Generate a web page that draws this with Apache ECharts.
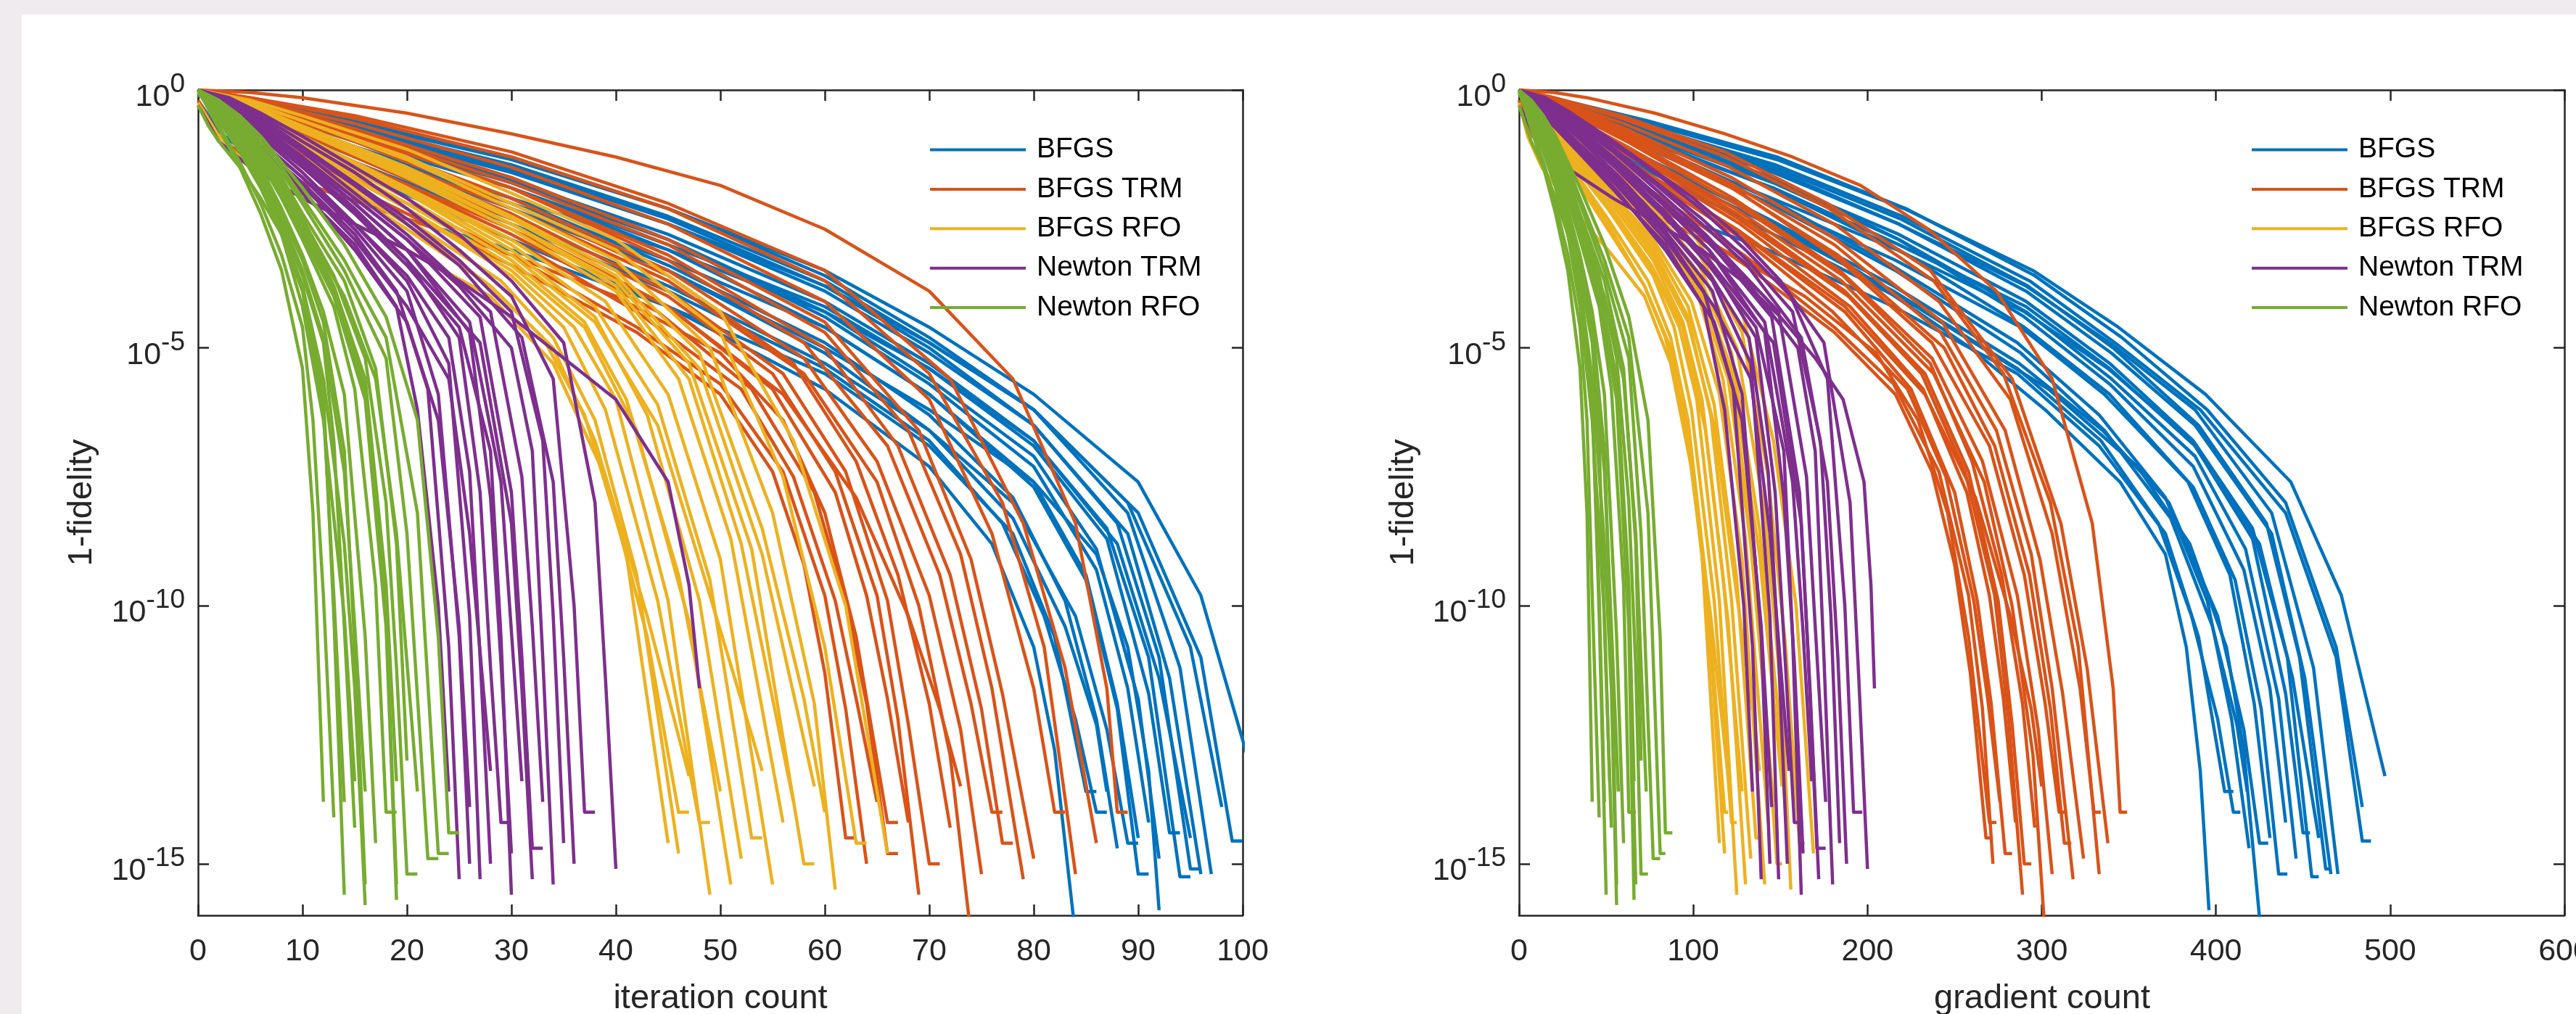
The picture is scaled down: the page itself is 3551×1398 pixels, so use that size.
<!DOCTYPE html>
<html>
<head>
<meta charset="utf-8">
<script src="https://cdn.jsdelivr.net/npm/echarts@6/dist/echarts.min.js"></script>
<style>
html,body{margin:0;padding:0;background:#efebef;overflow:hidden;}
#panel{position:absolute;left:30px;top:20px;width:3521px;height:1378px;background:#ffffff;}
#c{position:absolute;left:0;top:0;width:3551px;height:1398px;}
</style>
</head>
<body>
<div id="panel"></div>
<div id="c"></div>
<script>
// ---------------- data ----------------
const methodNames = ['BFGS', 'BFGS TRM', 'BFGS RFO', 'Newton TRM', 'Newton RFO'];
const methodColors = ['#0072BD', '#D95319', '#EDB120', '#7E2F8E', '#77AC30'];
const yTickExponents = [-15, -10, -5, 0];   // tick labels 10^-15 ... 10^0

// each run: [iteration, gradient count, log10(1-fidelity)]
const bfgsRuns = [
  [[0,0,0],[5,25,-0.6],[15,76,-1.6],[30,152,-2.9],[45,228,-4.2],[60,304,-5.8],[70,355,-7.3],[76,385,-8.8],[80,406,-10.8],[82,416,-12.8],[84,426,-16.4]],
  [[0,0,0],[5,21,-0.4],[15,65,-1.2],[30,130,-2.3],[45,194,-3.5],[60,259,-5.0],[70,302,-6.2],[80,345,-7.6],[86,371,-9.0],[89,383,-10.8],[91,391,-13.2],[92,396,-15.9]],
  [[0,0,-0.05],[5,24,-0.5],[15,72,-1.4],[30,143,-2.6],[45,215,-3.9],[60,286,-5.4],[70,334,-6.8],[77,367,-8.4],[81,386,-10.2],[84,401,-12.2],[86,410,-14.0],[87,414,-14.0]],
  [[0,0,0],[5,24,-0.35],[15,72,-1.1],[30,144,-2.2],[45,216,-3.5],[60,288,-5.1],[70,336,-6.6],[78,374,-8.3],[83,398,-10.4],[86,412,-12.3],[87,418,-13.6]],
  [[0,0,0],[5,24,-0.3],[15,71,-1.0],[30,143,-2.1],[45,214,-3.4],[60,286,-4.9],[70,333,-6.3],[78,371,-7.9],[83,395,-9.9],[86,409,-12.2],[88,419,-14.7]],
  [[0,0,0],[5,24,-0.45],[15,72,-1.3],[30,143,-2.5],[45,215,-3.8],[60,287,-5.3],[70,335,-6.6],[78,373,-8.0],[84,401,-10.2],[87,416,-12.4],[89,425,-14.6],[90,430,-14.6]],
  [[0,0,-0.1],[5,24,-0.4],[15,72,-1.1],[30,144,-2.2],[45,216,-3.3],[60,288,-4.6],[70,336,-5.9],[80,384,-7.6],[85,408,-9.4],[88,422,-11.9],[90,431,-14.5]],
  [[0,0,0],[5,24,-0.3],[15,73,-0.95],[30,145,-1.9],[45,218,-3.1],[60,290,-4.6],[70,339,-5.9],[80,387,-7.7],[85,411,-9.5],[88,426,-12.0],[90,436,-15.2],[91,441,-15.2]],
  [[0,0,0],[5,24,-0.25],[15,73,-0.8],[30,145,-1.7],[45,218,-2.9],[60,290,-4.4],[70,339,-5.7],[80,387,-7.3],[86,416,-9.3],[89,431,-11.6],[91,440,-14.2]],
  [[0,0,0],[5,24,-0.3],[15,73,-0.9],[30,146,-1.8],[45,218,-2.9],[60,291,-4.3],[70,340,-5.6],[80,388,-7.1],[86,417,-8.9],[90,436,-11.8],[92,446,-14.9]],
  [[0,0,0],[5,24,-0.35],[15,73,-1.0],[30,146,-1.9],[45,218,-3.0],[60,291,-4.2],[70,339,-5.4],[80,388,-6.9],[87,421,-8.7],[91,440,-11.7],[93,450,-14.4],[94,454,-14.4]],
  [[0,0,-0.05],[5,24,-0.3],[15,72,-0.85],[30,145,-1.75],[45,218,-2.8],[60,291,-4.1],[70,339,-5.3],[80,387,-6.8],[87,421,-8.5],[91,441,-11.0],[94,455,-15.25],[95,459,-15.25]],
  [[0,0,0],[5,24,-0.4],[15,72,-1.1],[30,145,-2.1],[45,217,-3.1],[60,290,-4.3],[70,338,-5.4],[80,386,-6.8],[88,425,-8.8],[92,444,-11.4],[95,459,-14.5]],
  [[0,0,0],[5,24,-0.2],[15,73,-0.7],[30,146,-1.5],[45,219,-2.5],[60,292,-3.8],[70,341,-5.0],[80,390,-6.5],[88,429,-8.4],[92,448,-11.0],[95,463,-15.1],[96,466,-15.1]],
  [[0,0,0],[5,24,-0.25],[15,73,-0.75],[30,146,-1.55],[45,218,-2.6],[60,291,-3.9],[70,340,-5.1],[80,388,-6.5],[89,432,-8.6],[93,451,-11.4],[96,466,-15.2]],
  [[0,0,0],[5,24,-0.3],[15,73,-0.8],[30,146,-1.6],[45,218,-2.6],[60,291,-3.8],[70,339,-4.9],[80,388,-6.2],[89,432,-8.2],[94,456,-11.2],[97,470,-15.2]],
  [[0,0,-0.05],[5,25,-0.2],[15,74,-0.6],[30,148,-1.3],[45,222,-2.3],[60,296,-3.6],[70,346,-4.8],[80,395,-6.2],[89,440,-8.0],[95,469,-10.8],[98,484,-13.9]],
  [[0,0,0],[5,24,-0.25],[15,73,-0.7],[30,147,-1.45],[45,220,-2.45],[60,293,-3.7],[70,342,-4.9],[80,391,-6.2],[90,440,-8.2],[96,469,-11.0],[99,484,-14.56],[100,489,-14.56]],
  [[0,0,0],[5,25,-0.2],[15,74,-0.65],[30,148,-1.35],[45,221,-2.3],[60,295,-3.5],[70,344,-4.6],[80,394,-5.9],[90,443,-7.6],[96,472,-9.8],[101,497,-13.3]],
  [[0,0,-0.2],[2,9,-0.8],[5,23,-1.3],[10,47,-1.8],[20,95,-2.5],[30,143,-3.1],[45,215,-4.2],[60,286,-5.5],[70,333,-6.9],[78,371,-8.6],[82,390,-10.6],[85,405,-13.6],[86,410,-13.6]]
];

const bfgsTrmRuns = [
  [[0,0,0],[5,22,-0.6],[15,65,-1.9],[30,130,-3.4],[42,181,-4.7],[50,216,-5.9],[55,237,-7.4],[58,250,-9.2],[60,259,-11.3],[62,268,-14.5],[63,272,-14.5]],
  [[0,0,0],[5,22,-0.55],[15,65,-1.7],[30,129,-3.2],[42,181,-4.6],[50,215,-5.7],[56,241,-7.4],[60,258,-9.8],[62,266,-12.0],[64,272,-15.0]],
  [[0,0,-0.05],[5,22,-0.5],[15,65,-1.5],[30,129,-2.9],[42,180,-4.3],[52,223,-5.8],[57,245,-7.5],[61,261,-9.9],[63,269,-11.8],[65,276,-13.8]],
  [[0,0,-0.1],[5,22,-0.45],[15,64,-1.4],[30,128,-2.8],[44,187,-4.3],[53,225,-5.8],[59,250,-7.8],[62,263,-9.9],[64,271,-11.9],[66,279,-14.8],[67,283,-14.8]],
  [[0,0,0],[5,21,-0.4],[15,64,-1.3],[30,127,-2.6],[45,190,-4.2],[55,232,-5.8],[61,257,-7.8],[64,270,-9.8],[66,278,-11.8],[68,285,-14.2]],
  [[0,0,0],[5,21,-0.35],[15,63,-1.2],[30,126,-2.5],[45,189,-4.0],[55,231,-5.5],[61,256,-7.4],[65,273,-9.8],[67,281,-12.2],[69,289,-15.6]],
  [[0,0,0],[5,21,-0.4],[15,63,-1.15],[30,125,-2.4],[45,187,-3.9],[56,233,-5.5],[62,258,-7.4],[66,275,-9.9],[68,283,-12.3],[70,290,-15.0],[71,294,-15.0]],
  [[0,0,-0.05],[5,21,-0.3],[15,62,-1.0],[30,124,-2.2],[45,186,-3.6],[57,236,-5.3],[63,260,-7.2],[67,277,-9.4],[70,289,-11.9],[72,296,-14.3]],
  [[0,0,0],[5,21,-0.35],[15,62,-1.1],[30,124,-2.3],[45,185,-3.7],[58,238,-5.5],[65,267,-7.6],[69,283,-10.0],[72,295,-12.9],[74,302,-16.4]],
  [[0,0,0],[5,21,-0.3],[15,62,-0.95],[30,123,-2.1],[45,184,-3.5],[58,237,-5.2],[65,266,-7.2],[70,286,-9.8],[73,298,-12.4],[75,306,-15.2]],
  [[0,0,0],[5,20,-0.25],[15,61,-0.85],[30,123,-1.9],[45,184,-3.3],[58,237,-4.9],[66,270,-6.9],[71,290,-9.4],[74,302,-11.9],[76,310,-14.0],[77,314,-14.0]],
  [[0,0,0],[5,20,-0.3],[15,61,-0.9],[30,122,-1.9],[45,183,-3.2],[60,244,-5.0],[67,273,-6.9],[72,293,-9.4],[75,305,-12.0],[77,313,-14.6],[78,317,-14.6]],
  [[0,0,0],[5,20,-0.25],[15,61,-0.8],[30,121,-1.8],[45,181,-3.0],[60,242,-4.7],[68,274,-6.6],[73,294,-9.0],[76,306,-11.6],[79,318,-15.3]],
  [[0,0,0],[5,20,-0.2],[15,61,-0.75],[30,122,-1.7],[45,182,-2.9],[60,243,-4.5],[69,279,-6.6],[74,299,-9.1],[77,312,-11.7],[80,324,-14.9]],
  [[0,0,0],[5,20,-0.2],[15,60,-0.65],[30,121,-1.5],[45,181,-2.6],[60,241,-4.1],[70,282,-6.0],[76,306,-8.6],[80,322,-11.6],[82,330,-14.0],[83,334,-14.0]],
  [[0,0,0],[5,20,-0.15],[15,59,-0.55],[30,119,-1.3],[45,178,-2.3],[60,238,-3.7],[70,278,-5.5],[77,305,-8.0],[81,321,-10.8],[84,333,-15.2]],
  [[0,0,0],[5,20,-0.15],[15,59,-0.5],[30,118,-1.2],[45,177,-2.2],[60,236,-3.5],[72,283,-5.6],[79,311,-8.4],[83,326,-11.2],[86,338,-14.6]],
  [[0,0,0],[5,20,-0.05],[10,39,-0.15],[20,78,-0.45],[30,118,-0.85],[40,157,-1.3],[50,196,-1.85],[60,235,-2.7],[70,274,-3.9],[78,306,-5.6],[84,329,-8.4],[87,341,-11.6],[88,345,-14.0],[89,349,-14.0]],
  [[0,0,-0.2],[2,8,-0.9],[5,20,-1.4],[10,41,-1.8],[20,82,-2.5],[30,123,-3.2],[40,164,-4.0],[50,205,-5.1],[56,229,-6.4],[60,246,-8.2],[63,258,-10.6],[66,270,-14.2],[67,274,-14.2]],
  [[0,0,0],[5,21,-0.5],[15,63,-1.4],[30,125,-2.7],[45,187,-4.2],[56,233,-5.9],[63,262,-7.9],[68,282,-10.2],[71,294,-12.0],[73,300,-13.5]]
];

const bfgsRfoRuns = [
  [[0,0,0],[5,13,-0.7],[10,26,-1.4],[20,51,-2.7],[28,72,-3.8],[33,84,-4.8],[37,95,-6.3],[41,105,-9.0],[45,115,-14.6]],
  [[0,0,0],[5,13,-0.6],[10,26,-1.3],[20,51,-2.5],[29,74,-3.7],[34,87,-4.8],[38,97,-6.4],[42,107,-9.4],[46,118,-14.8]],
  [[0,0,0],[5,13,-0.55],[10,25,-1.2],[20,51,-2.3],[30,77,-3.6],[35,89,-4.6],[39,99,-6.2],[44,112,-9.9],[48,122,-14.2],[49,125,-14.2]],
  [[0,0,-0.05],[5,13,-0.5],[10,26,-1.15],[20,51,-2.3],[30,77,-3.5],[36,92,-4.6],[40,102,-6.0],[45,115,-9.9],[49,125,-15.6]],
  [[0,0,0],[5,13,-0.45],[10,26,-1.05],[20,51,-2.1],[30,77,-3.3],[37,94,-4.5],[41,105,-6.0],[46,117,-9.4],[50,128,-13.6]],
  [[0,0,-0.05],[5,13,-0.5],[10,25,-1.1],[20,51,-2.2],[30,76,-3.4],[37,94,-4.6],[42,107,-6.6],[47,120,-10.3],[51,130,-15.4]],
  [[0,0,0],[5,13,-0.4],[10,26,-0.95],[20,51,-1.95],[30,77,-3.1],[38,97,-4.4],[43,110,-6.3],[48,122,-9.9],[52,133,-14.9]],
  [[0,0,0],[5,13,-0.35],[10,25,-0.9],[20,51,-1.9],[30,77,-3.0],[38,97,-4.2],[44,112,-6.1],[49,125,-9.5],[53,136,-14.5],[54,139,-14.5]],
  [[0,0,0],[5,13,-0.4],[10,26,-0.95],[20,51,-1.9],[30,77,-2.9],[39,99,-4.1],[45,115,-5.9],[50,128,-9.1],[55,141,-15.4]],
  [[0,0,0],[5,13,-0.3],[10,26,-0.8],[20,51,-1.7],[30,77,-2.7],[40,102,-3.9],[46,117,-5.6],[51,130,-8.7],[56,143,-14.2]],
  [[0,0,0],[5,13,-0.3],[10,25,-0.75],[20,51,-1.6],[30,77,-2.6],[40,102,-3.8],[47,120,-5.6],[52,133,-8.8],[57,146,-13.8]],
  [[0,0,0],[5,13,-0.35],[10,26,-0.8],[20,51,-1.65],[30,77,-2.6],[40,102,-3.7],[47,120,-5.3],[53,135,-8.9],[58,148,-15.0],[59,151,-15.0]],
  [[0,0,-0.05],[5,13,-0.3],[10,26,-0.7],[20,51,-1.5],[30,77,-2.45],[40,102,-3.5],[48,122,-5.1],[54,138,-8.5],[58,148,-11.8],[60,153,-14.0]],
  [[0,0,0],[5,13,-0.25],[10,26,-0.6],[20,51,-1.35],[30,77,-2.3],[40,102,-3.3],[49,125,-5.0],[55,141,-8.2],[59,151,-11.9],[61,156,-15.5]],
  [[0,0,0],[5,13,-0.25],[10,26,-0.6],[20,51,-1.3],[30,77,-2.2],[40,102,-3.1],[50,128,-4.7],[56,143,-7.5],[60,153,-10.8],[63,161,-14.6],[64,164,-14.6]],
  [[0,0,0],[5,13,-0.2],[10,26,-0.5],[20,51,-1.15],[30,77,-2.0],[40,102,-2.9],[50,128,-4.3],[57,146,-6.8],[62,159,-10.0],[66,169,-14.8]],
  [[0,0,-0.25],[2,5,-0.9],[5,13,-1.5],[10,26,-2.1],[15,38,-2.6],[20,51,-3.1],[28,72,-4.0],[34,87,-5.3],[39,100,-7.5],[43,110,-10.6],[46,118,-14.0],[47,120,-14.0]],
  [[0,0,0],[5,13,-0.45],[10,26,-1.0],[20,51,-2.0],[30,77,-3.2],[38,97,-4.5],[44,112,-6.5],[49,125,-9.8],[53,136,-12.5],[54,138,-13.2]],
  [[0,0,0],[5,13,-0.3],[10,26,-0.7],[20,51,-1.55],[30,77,-2.5],[40,102,-3.6],[48,122,-5.4],[54,138,-9.0],[59,151,-13.5]],
  [[0,0,0],[5,13,-0.65],[10,26,-1.35],[20,51,-2.6],[28,72,-3.8],[34,87,-5.0],[38,97,-6.8],[43,110,-10.2],[47,120,-13.3]]
];

const newtonTrmRuns = [
  [[0,0,0],[3,17,-0.6],[6,34,-1.2],[10,56,-2.0],[15,84,-3.0],[19,106,-4.2],[21,118,-6.2],[23,129,-10.0],[24,134,-13.6]],
  [[0,0,0],[3,17,-0.5],[6,34,-1.1],[10,56,-1.8],[15,84,-2.8],[19,106,-3.9],[22,123,-5.8],[24,134,-10.8],[25,139,-15.3]],
  [[0,0,-0.05],[3,17,-0.45],[6,33,-1.0],[10,56,-1.7],[15,83,-2.7],[20,111,-3.9],[23,128,-5.9],[25,139,-10.6],[26,144,-15.0]],
  [[0,0,0],[3,17,-0.55],[6,34,-1.15],[10,56,-1.95],[15,84,-3.1],[20,112,-4.5],[23,128,-6.4],[25,139,-10.4],[26,145,-13.9]],
  [[0,0,0],[3,17,-0.4],[6,33,-0.9],[10,55,-1.6],[15,83,-2.6],[20,111,-3.7],[24,133,-5.3],[26,144,-10.2],[27,149,-15.3]],
  [[0,0,0],[3,17,-0.45],[6,33,-1.0],[10,55,-1.7],[15,83,-2.6],[20,110,-3.6],[24,132,-4.8],[26,143,-7.4],[27,149,-11.0],[28,154,-15.0]],
  [[0,0,0],[3,16,-0.35],[6,33,-0.8],[10,55,-1.45],[15,82,-2.3],[20,109,-3.3],[25,136,-4.8],[27,147,-7.8],[28,153,-11.2],[29,158,-14.2],[30,163,-14.2]],
  [[0,0,0],[3,16,-0.35],[6,33,-0.8],[10,55,-1.4],[15,82,-2.2],[20,109,-3.1],[26,141,-4.7],[28,152,-7.9],[29,158,-11.1],[30,163,-14.8]],
  [[0,0,0],[3,16,-0.3],[6,33,-0.75],[10,55,-1.35],[15,82,-2.2],[20,109,-3.1],[26,141,-4.5],[29,157,-7.6],[30,163,-10.5],[31,168,-13.4]],
  [[0,0,0],[3,16,-0.3],[6,32,-0.7],[10,54,-1.3],[15,81,-2.1],[20,108,-2.9],[27,145,-4.4],[30,161,-7.8],[31,166,-11.0],[32,171,-14.7],[33,176,-14.7]],
  [[0,0,-0.05],[3,16,-0.35],[6,33,-0.8],[10,55,-1.45],[15,82,-2.35],[20,109,-3.3],[27,146,-4.9],[30,162,-8.4],[31,167,-11.6],[32,172,-15.3]],
  [[0,0,0],[3,16,-0.25],[6,32,-0.65],[10,54,-1.2],[15,81,-2.0],[20,107,-2.8],[28,149,-4.3],[31,165,-7.5],[32,170,-10.4],[33,176,-13.8]],
  [[0,0,0],[3,16,-0.2],[6,32,-0.55],[10,53,-1.1],[15,79,-1.8],[20,105,-2.5],[25,131,-3.3],[30,157,-4.3],[33,173,-6.8],[34,179,-10.2],[35,184,-14.6]],
  [[0,0,0],[3,16,-0.25],[6,32,-0.6],[10,53,-1.15],[15,79,-1.85],[20,105,-2.6],[25,131,-3.4],[31,162,-4.8],[34,177,-7.6],[35,183,-11.0],[36,188,-15.0]],
  [[0,0,0],[3,16,-0.2],[6,31,-0.5],[10,52,-1.0],[15,78,-1.6],[20,104,-2.3],[25,130,-3.1],[30,156,-4.0],[34,177,-5.6],[36,187,-10.0],[37,192,-14.0],[38,197,-14.0]],
  [[0,0,0],[3,15,-0.15],[6,30,-0.45],[10,50,-0.9],[15,75,-1.5],[20,100,-2.1],[25,125,-2.8],[30,150,-3.7],[35,175,-4.9],[38,190,-8.0],[39,195,-11.4],[40,200,-15.1]],
  [[0,0,-0.3],[2,11,-1.0],[5,27,-1.5],[10,54,-2.1],[15,80,-2.6],[20,105,-3.1],[25,128,-3.7],[30,150,-4.4],[35,170,-5.2],[40,186,-6.0],[45,198,-7.6],[47,202,-9.6],[48,204,-11.6]],
  [[0,0,0],[3,17,-0.5],[6,34,-1.1],[10,56,-1.85],[15,84,-2.9],[20,112,-4.2],[24,133,-5.6],[26,144,-8.6],[28,155,-13.2]],
  [[0,0,0],[3,16,-0.3],[6,32,-0.7],[10,54,-1.3],[15,80,-2.1],[20,107,-2.9],[25,133,-3.8],[30,160,-5.0],[32,170,-7.0],[33,175,-11.0],[34,180,-15.4]],
  [[0,0,0],[3,16,-0.4],[6,33,-0.85],[10,55,-1.5],[15,82,-2.4],[20,109,-3.4],[25,136,-4.6],[28,152,-7.0],[29,157,-10.6],[30,162,-15.6]]
];

const newtonRfoRuns = [
  [[0,0,0],[2,7,-0.7],[4,14,-1.4],[6,21,-2.2],[8,28,-3.2],[10,35,-4.6],[11,39,-6.4],[12,42,-9.8],[13,46,-14.1]],
  [[0,0,-0.05],[2,7,-0.6],[4,14,-1.2],[6,21,-1.9],[8,28,-2.8],[10,35,-3.9],[12,42,-6.2],[13,46,-9.8],[14,49,-13.8]],
  [[0,0,0],[2,7,-0.55],[4,14,-1.15],[6,21,-1.85],[8,28,-2.7],[10,35,-3.8],[12,42,-5.9],[13,46,-10.2],[14,50,-15.6]],
  [[0,0,0],[2,7,-0.5],[4,14,-1.1],[6,21,-1.8],[8,28,-2.6],[10,35,-3.6],[12,42,-4.9],[13,46,-6.8],[14,49,-10.4],[15,53,-14.3]],
  [[0,0,0],[2,7,-0.45],[4,14,-0.95],[6,21,-1.6],[8,28,-2.4],[10,35,-3.3],[12,42,-4.5],[14,49,-7.0],[15,53,-10.8],[16,56,-15.4]],
  [[0,0,0],[2,7,-0.5],[4,14,-1.05],[6,21,-1.7],[8,28,-2.5],[10,35,-3.5],[12,42,-4.8],[14,49,-7.4],[15,53,-10.4],[16,57,-13.6]],
  [[0,0,0],[2,7,-0.4],[4,14,-0.9],[6,21,-1.5],[8,28,-2.3],[10,35,-3.2],[12,42,-4.3],[14,49,-5.9],[16,56,-10.6],[17,60,-14.6]],
  [[0,0,0],[2,7,-0.35],[4,14,-0.8],[6,21,-1.4],[8,28,-2.1],[10,35,-2.9],[13,46,-4.2],[15,53,-5.8],[17,60,-9.6],[18,63,-14.0],[19,67,-14.0]],
  [[0,0,0],[2,7,-0.4],[4,14,-0.85],[6,21,-1.4],[8,28,-2.0],[10,35,-2.7],[13,46,-3.9],[16,56,-5.8],[18,63,-10.2],[19,67,-15.4]],
  [[0,0,0],[2,7,-0.3],[4,14,-0.75],[6,21,-1.3],[8,28,-1.9],[10,35,-2.6],[13,46,-3.8],[16,56,-5.6],[18,63,-9.6],[19,66,-13.4]],
  [[0,0,0],[2,7,-0.3],[4,14,-0.7],[6,21,-1.2],[8,28,-1.8],[10,35,-2.5],[13,46,-3.6],[16,56,-5.2],[18,63,-8.0],[19,67,-11.2],[20,70,-15.2],[21,74,-15.2]],
  [[0,0,0],[2,7,-0.3],[4,14,-0.75],[6,21,-1.3],[8,28,-1.9],[10,35,-2.6],[14,49,-4.0],[17,60,-5.6],[19,67,-8.6],[21,73,-13.6]],
  [[0,0,0],[2,7,-0.25],[4,14,-0.6],[6,21,-1.1],[8,28,-1.6],[10,35,-2.2],[14,49,-3.5],[18,63,-5.2],[20,70,-8.6],[22,77,-14.9],[23,81,-14.9]],
  [[0,0,0],[2,7,-0.25],[4,14,-0.55],[6,21,-1.0],[8,28,-1.5],[10,35,-2.1],[14,49,-3.3],[18,63,-4.8],[21,74,-8.2],[23,81,-14.8],[24,84,-14.8]],
  [[0,0,0],[2,7,-0.2],[4,14,-0.5],[6,21,-0.9],[8,28,-1.4],[10,35,-1.9],[14,49,-3.0],[18,63,-4.4],[21,74,-6.4],[23,81,-10.6],[24,84,-14.4],[25,88,-14.4]],
  [[0,0,-0.3],[1,4,-0.7],[2,7,-1.0],[4,14,-1.5],[6,21,-2.1],[8,28,-2.8],[10,35,-3.8],[12,42,-5.6],[14,49,-8.8],[15,53,-11.6],[16,56,-15.8]],
  [[0,0,0],[2,7,-0.55],[4,14,-1.15],[6,21,-1.85],[8,28,-2.8],[10,35,-4.2],[12,42,-6.4],[14,49,-10.2],[15,52,-13.4]],
  [[0,0,0],[2,7,-0.35],[4,14,-0.8],[6,21,-1.35],[8,28,-2.0],[10,35,-2.8],[13,46,-4.0],[16,56,-6.0],[18,63,-10.4],[19,66,-15.7]],
  [[0,0,0],[2,7,-0.75],[4,14,-1.5],[6,21,-2.4],[8,28,-3.5],[10,35,-5.4],[11,39,-8.2],[12,42,-13.8]],
  [[0,0,0],[2,7,-0.3],[4,14,-0.65],[6,21,-1.15],[8,28,-1.7],[10,35,-2.4],[14,49,-3.7],[17,60,-5.4],[19,67,-8.8],[20,70,-13.0]]
];

const runsByMethod = [bfgsRuns, bfgsTrmRuns, bfgsRfoRuns, newtonTrmRuns, newtonRfoRuns];

// ---------------- chart ----------------
const FONT = '"Liberation Sans", Arial, Helvetica, sans-serif';
const AX = '#262626';
const chart = echarts.init(document.getElementById('c'), null, {renderer: 'canvas', width: 3551, height: 1398});

const lineAxisStyle = {show: true, onZero: false, lineStyle: {color: AX, width: 2.5}};
const tickStyle = {show: true, inside: true, length: 15, lineStyle: {color: AX, width: 2.5}};

function xAxisPair(gridIndex, maxVal, step) {
  const base = {
    gridIndex: gridIndex, type: 'value', min: 0, max: maxVal, interval: step,
    axisLine: lineAxisStyle, axisTick: tickStyle, splitLine: {show: false}
  };
  return [
    Object.assign({}, base, {position: 'bottom',
      axisLabel: {show: true, fontSize: 43, fontFamily: FONT, color: AX, margin: 50, verticalAlign: 'middle',
                  showMinLabel: true, showMaxLabel: true}}),
    Object.assign({}, base, {position: 'top', axisLabel: {show: false}})
  ];
}

function yAxisPair(gridIndex) {
  const base = {
    gridIndex: gridIndex, type: 'value', min: -16, max: 0,
    axisLine: lineAxisStyle, splitLine: {show: false},
    axisTick: Object.assign({}, tickStyle, {customValues: yTickExponents})
  };
  return [
    Object.assign({}, base, {position: 'left',
      axisLabel: {
        show: true, customValues: yTickExponents, margin: 18,
        fontSize: 43, fontFamily: FONT, color: AX,
        formatter: function (v) { return '{b|10}{s|' + String(v) + '}'; },
        rich: {
          b: {fontSize: 43, lineHeight: 63.4, fontFamily: FONT, color: AX, verticalAlign: 'bottom'},
          s: {fontSize: 37, lineHeight: 37, fontFamily: FONT, color: AX, verticalAlign: 'top', padding: [6, 0, 0, 0]}
        }
      }}),
    Object.assign({}, base, {position: 'right', axisLabel: {show: false}})
  ];
}

const series = [];
runsByMethod.forEach(function (runs, m) {
  runs.forEach(function (run) {
    const common = {
      type: 'line', name: methodNames[m], symbol: 'none', showSymbol: false, silent: true,
      animation: false, clip: true,
      lineStyle: {color: methodColors[m], width: 4.5, join: 'round'},
      itemStyle: {color: methodColors[m]}
    };
    series.push(Object.assign({}, common, {xAxisIndex: 0, yAxisIndex: 0, data: run.map(function (p) { return [p[0], p[2]]; })}));
    series.push(Object.assign({}, common, {xAxisIndex: 2, yAxisIndex: 2, data: run.map(function (p) { return [p[1], p[2]]; })}));
  });
});

function legendAt(left) {
  return {
    data: methodNames, orient: 'vertical', left: left, top: 182,
    itemWidth: 132, itemHeight: 40, itemGap: 15.4, selectedMode: false,
    textStyle: {fontSize: 39, fontFamily: FONT, color: '#000000', padding: [0, 0, 0, 10]},
    itemStyle: {opacity: 0},
    lineStyle: {width: 4}
  };
}

function titleText(x, y, text, rot) {
  return {
    type: 'text', x: x, y: y, rotation: rot || 0, silent: true,
    style: {text: text, fill: AX, font: '47px ' + FONT, textAlign: 'center', textVerticalAlign: 'middle'}
  };
}

chart.setOption({
  animation: false,
  backgroundColor: 'transparent',
  textStyle: {fontFamily: FONT},
  grid: [
    {left: 273, top: 124, width: 1440, height: 1138, outerBoundsMode: 'none', containLabel: false},
    {left: 2094, top: 124, width: 1441, height: 1138, outerBoundsMode: 'none', containLabel: false}
  ],
  xAxis: xAxisPair(0, 100, 10).concat(xAxisPair(1, 600, 100)),
  yAxis: yAxisPair(0).concat(yAxisPair(1)),
  legend: [legendAt(1275), legendAt(3097)],
  graphic: [
    titleText(993, 1377, 'iteration count'),
    titleText(2815, 1377, 'gradient count'),
    titleText(113, 693, '1-fidelity', Math.PI / 2),
    titleText(1935, 693, '1-fidelity', Math.PI / 2)
  ],
  series: series
});
</script>
</body>
</html>
